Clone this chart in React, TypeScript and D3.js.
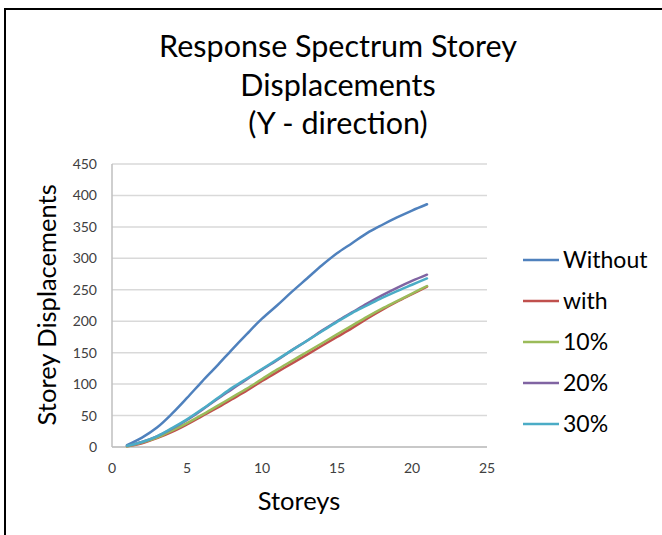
import React from "react";
import * as d3 from "d3";

const storeys = d3.range(1, 22);
const seriesNames = ["Without", "with", "10%", "20%", "30%"];
const seriesColors = ["#4F81BD", "#C0504D", "#9BBB59", "#8064A2", "#4BACC6"];

const withoutValues = [3, 15, 31, 53, 78, 104, 129, 155, 180, 204, 225, 247, 268, 289, 308, 324, 340, 353, 365, 376, 386];
const withValues = [1, 6, 14, 24, 36, 49, 62, 76, 90, 105, 119, 133, 147, 161, 175, 189, 204, 218, 231, 243, 255];
const tenPctValues = [1, 7, 15, 26, 38, 51, 65, 79, 93, 108, 123, 137, 151, 165, 179, 193, 207, 220, 232, 244, 256];
const twentyPctValues = [2, 8, 17, 29, 43, 59, 76, 92, 108, 123, 138, 154, 169, 185, 200, 214, 228, 241, 253, 264, 274];
const thirtyPctValues = [2, 8, 17, 30, 44, 60, 77, 94, 109, 124, 139, 154, 169, 184, 199, 213, 225, 237, 248, 258, 268];

const seriesValues = [withoutValues, withValues, tenPctValues, twentyPctValues, thirtyPctValues];
const xTicks = [0, 5, 10, 15, 20, 25];
const yTicks = [0, 50, 100, 150, 200, 250, 300, 350, 400, 450];

const titleLines = ["Response Spectrum Storey", "Displacements", "(Y - direction)"];
const xTitle = "Storeys";
const yTitle = "Storey Displacements";

const W = 662;
const H = 535;
const FONT = "Lato, 'Open Sans', sans-serif";

export default function App() {
  const x = d3.scaleLinear().domain([0, 25]).range([112, 487]);
  const y = d3.scaleLinear().domain([0, 450]).range([447, 164]);

  const line = d3
    .line<number>()
    .x((_, i) => x(storeys[i]))
    .y((d) => y(d))
    .curve(d3.curveCatmullRom.alpha(0.5));

  const legendX = 523;
  const legendY0 = 260;
  const legendStep = 41;

  return (
    <svg
      width={W}
      height={H}
      style={{ position: "fixed", left: 0, top: 0, background: "#fff" }}
      fontFamily={FONT}
    >
      <rect x={0} y={0} width={W} height={H} fill="#fff" />
      {/* chart frame, extending past the right and bottom edges */}
      <rect x={5} y={9} width={W + 20} height={H + 20} fill="none" stroke="#000" strokeWidth={2} />

      {titleLines.map((t, i) => (
        <text key={t} x={338} y={57 + i * 38.5} textAnchor="middle" fontSize={30.5} fill="#000">
          {t}
        </text>
      ))}

      {/* horizontal gridlines */}
      {yTicks.map((v) => (
        <line key={v} x1={x(0)} x2={x(25)} y1={y(v)} y2={y(v)} stroke="#d9d9d9" strokeWidth={1.5} />
      ))}
      {/* axes */}
      <line x1={x(0)} x2={x(0)} y1={y(450)} y2={y(0)} stroke="#bfbfbf" strokeWidth={1.5} />
      <line x1={x(0)} x2={x(25)} y1={y(0)} y2={y(0)} stroke="#bfbfbf" strokeWidth={1.5} />

      {yTicks.map((v) => (
        <text key={v} x={97} y={y(v) + 5} textAnchor="end" fontSize={14} fill="#404040">
          {v}
        </text>
      ))}
      {xTicks.map((v) => (
        <text key={v} x={x(v)} y={473} textAnchor="middle" fontSize={14} fill="#404040">
          {v}
        </text>
      ))}

      <text x={299} y={510} textAnchor="middle" fontSize={25.5} fill="#000">
        {xTitle}
      </text>
      <text
        transform={`translate(56, ${y(226)}) rotate(-90)`}
        textAnchor="middle"
        fontSize={25.5}
        fill="#000"
      >
        {yTitle}
      </text>

      {seriesValues.map((vals, i) => (
        <path
          key={seriesNames[i]}
          d={line(vals) || ""}
          fill="none"
          stroke={seriesColors[i]}
          strokeWidth={2.5}
          strokeLinejoin="round"
          strokeLinecap="round"
        />
      ))}

      {seriesNames.map((name, i) => (
        <g key={name} transform={`translate(${legendX}, ${legendY0 + i * legendStep})`}>
          <line x1={0} x2={36} y1={0} y2={0} stroke={seriesColors[i]} strokeWidth={2.5} />
          <text x={40} y={8} fontSize={23} fill="#000">
            {name}
          </text>
        </g>
      ))}
    </svg>
  );
}
